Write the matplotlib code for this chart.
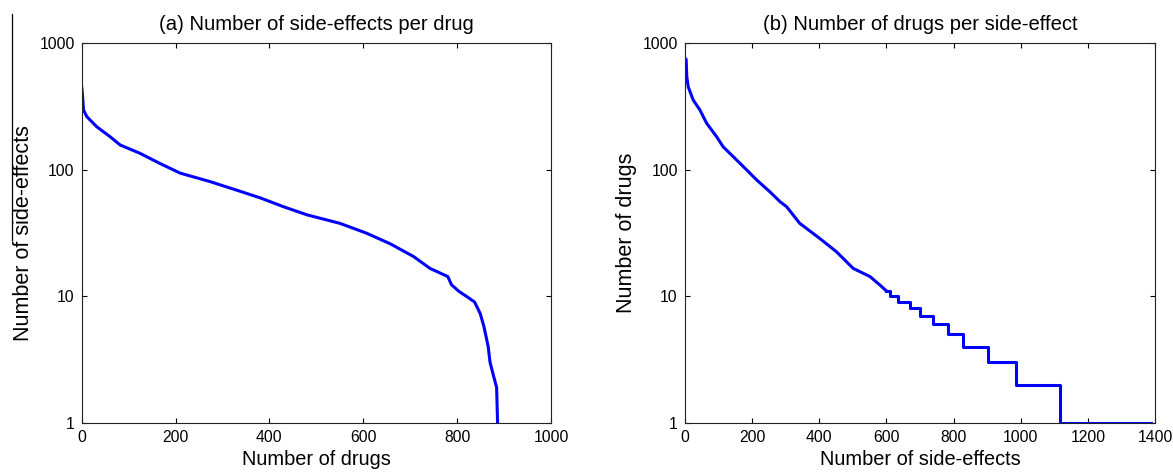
import matplotlib
matplotlib.use("Agg")
import matplotlib.pyplot as plt
from matplotlib.lines import Line2D
from matplotlib.ticker import FixedLocator, FixedFormatter, NullLocator

plt.rcParams['font.family'] = ['Liberation Sans', 'DejaVu Sans']

# (a) side-effects per drug, drugs sorted by count
drug_rank = [0, 1, 2, 4, 11, 32, 61, 82, 124, 167, 210, 274, 330, 380, 430, 480,
             550, 607, 657, 707, 742, 780, 788, 804, 821, 837, 849, 857, 866, 870,
             878, 884, 886]
se_per_drug = [454, 420, 380, 297, 263, 219, 182, 157, 135, 112, 94, 80.5, 69, 60, 51, 44,
               37.7, 31.5, 26, 20.6, 16.6, 14.3, 12.3, 10.9, 9.9, 9, 7.3, 5.75, 4, 3,
               2.3, 1.9, 1]

# (b) drugs per side-effect, side-effects sorted by count
se_rank = [0, 4, 6, 10, 25, 45, 65, 95, 114, 144, 174, 214, 253, 283, 303, 342,
           401, 451, 501, 551, 580, 600]
drugs_per_se = [760, 747, 544, 454, 356, 297, 233, 182, 152, 127, 106, 83, 67, 56, 51, 37.7,
                28.7, 22.5, 16.6, 14.3, 12.3, 11]
# tail of (b): integer steps
step_start = [600, 612, 633, 669, 699, 738, 783, 827, 902, 986, 1115, 1387]
step_value = [11, 10, 9, 8, 7, 6, 5, 4, 3, 2, 1, 1]

y_ticks = [1, 10, 100, 1000]
y_labels = ['1', '10', '100', '1000']

BLUE = (0, 0, 1)


def style_axes(ax, xmax, title, xlabel, ylabel):
    ax.set_yscale('log')
    ax.set_ylim(1, 1000)
    ax.set_xlim(0, xmax)
    ax.yaxis.set_major_locator(FixedLocator(y_ticks))
    ax.yaxis.set_major_formatter(FixedFormatter(y_labels))
    ax.yaxis.set_minor_locator(NullLocator())
    ax.set_xticks(list(range(0, xmax + 1, 200)))
    ax.tick_params(direction='in', length=3.6, width=0.8, top=True, right=True,
                   labelsize=11.3, pad=5, colors='black')
    for s in ax.spines.values():
        s.set_linewidth(0.8)
        s.set_color('#222222')
    ax.set_title(title, fontsize=14.6, pad=9.5)
    ax.set_xlabel(xlabel, fontsize=14.4, labelpad=4)
    ax.set_ylabel(ylabel, fontsize=15.5, labelpad=4)


fig = plt.figure(figsize=(11.73, 4.72), dpi=100)

ax1 = fig.add_axes([0.0696, 0.1045, 0.4002, 0.8038])
ax1.plot(drug_rank, se_per_drug, color=BLUE, lw=2.2)
style_axes(ax1, 1000, '(a) Number of side-effects per drug',
           'Number of drugs', 'Number of side-effects')

ax2 = fig.add_axes([0.5838, 0.1045, 0.4011, 0.8038])
ax2.plot(se_rank, drugs_per_se, color=BLUE, lw=2.2)
ax2.plot(step_start, step_value, color=BLUE, lw=2.2, drawstyle='steps-post')
style_axes(ax2, 1400, '(b) Number of drugs per side-effect',
           'Number of side-effects', 'Number of drugs')

# stray border line at the left edge of the scan
fig.add_artist(Line2D([12.3 / 1173, 12.3 / 1173], [1 - 14 / 472, 1 - 240 / 472],
                      color='black', lw=0.9))

fig.savefig('out.png', dpi=100)
